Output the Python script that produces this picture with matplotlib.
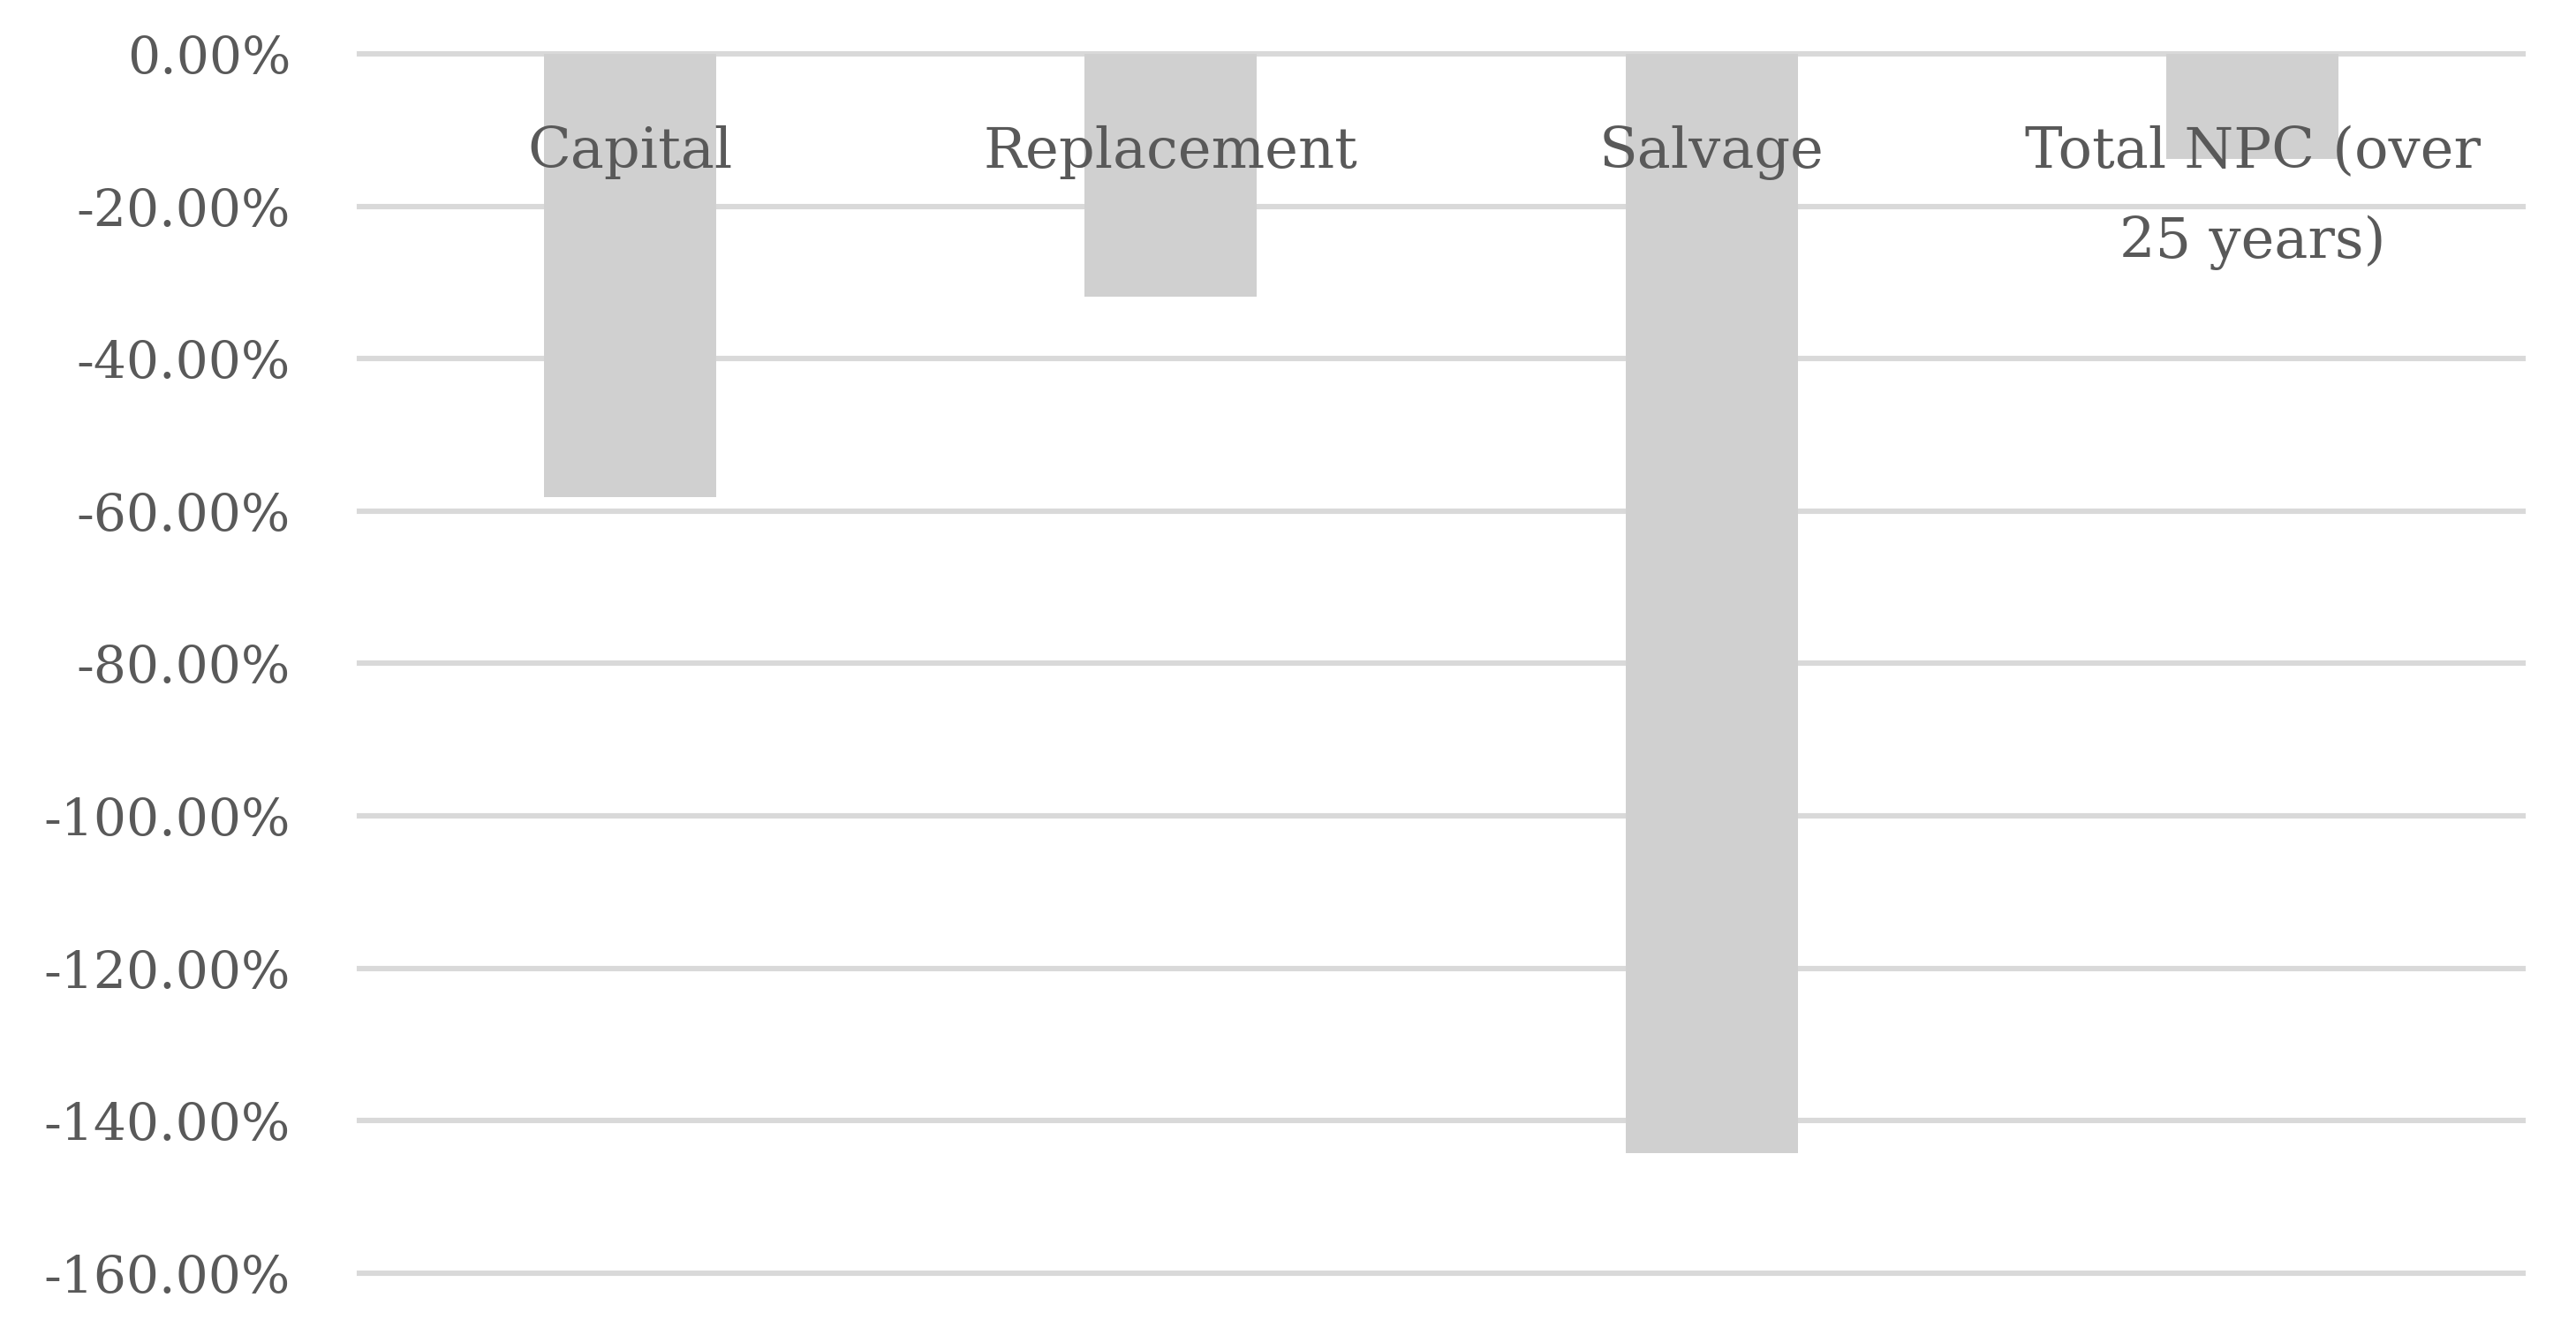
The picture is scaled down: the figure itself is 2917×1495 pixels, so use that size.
import matplotlib.pyplot as plt
from matplotlib.ticker import FormatStrFormatter

categories = ['Capital', 'Replacement', 'Salvage', 'Total NPC (over\n25 years)']
changes = [-58.2, -31.9, -144.3, -13.8]
yticks = [0, -20, -40, -60, -80, -100, -120, -140, -160]

text_color = '#595959'
bar_color = '#d0d0d0'
grid_color = '#d9d9d9'
font = 'DejaVu Serif'

fig = plt.figure(figsize=(14.585, 7.475), dpi=200)
ax = fig.add_axes([0.1395, 0.0355, 0.8399, 0.9237])

x = list(range(len(categories)))
ax.bar(x, changes, width=0.318, color=bar_color, zorder=3)

ax.set_xlim(-0.5, len(categories) - 0.5)
ax.set_ylim(-160, 0)
ax.set_yticks(yticks)
ax.yaxis.set_major_formatter(FormatStrFormatter('%.2f%%'))
ax.yaxis.grid(True, color=grid_color, linewidth=2.2, zorder=0)
for line in ax.get_ygridlines():
    line.set_clip_on(False)

for s in ax.spines.values():
    s.set_visible(False)

# category labels sit just under the zero line, on top of the bars
ax.set_xticks([])
for i, cat in enumerate(categories):
    ax.annotate(cat, xy=(i, 0), xytext=(0, -29), textcoords='offset points',
                ha='center', va='top', fontsize=23, color=text_color,
                family=font, linespacing=1.85, zorder=5)

ax.tick_params(axis='y', length=0, pad=28, labelsize=21, labelcolor=text_color)
for lbl in ax.get_yticklabels():
    lbl.set_family(font)

fig.savefig('out.png', dpi=200)
